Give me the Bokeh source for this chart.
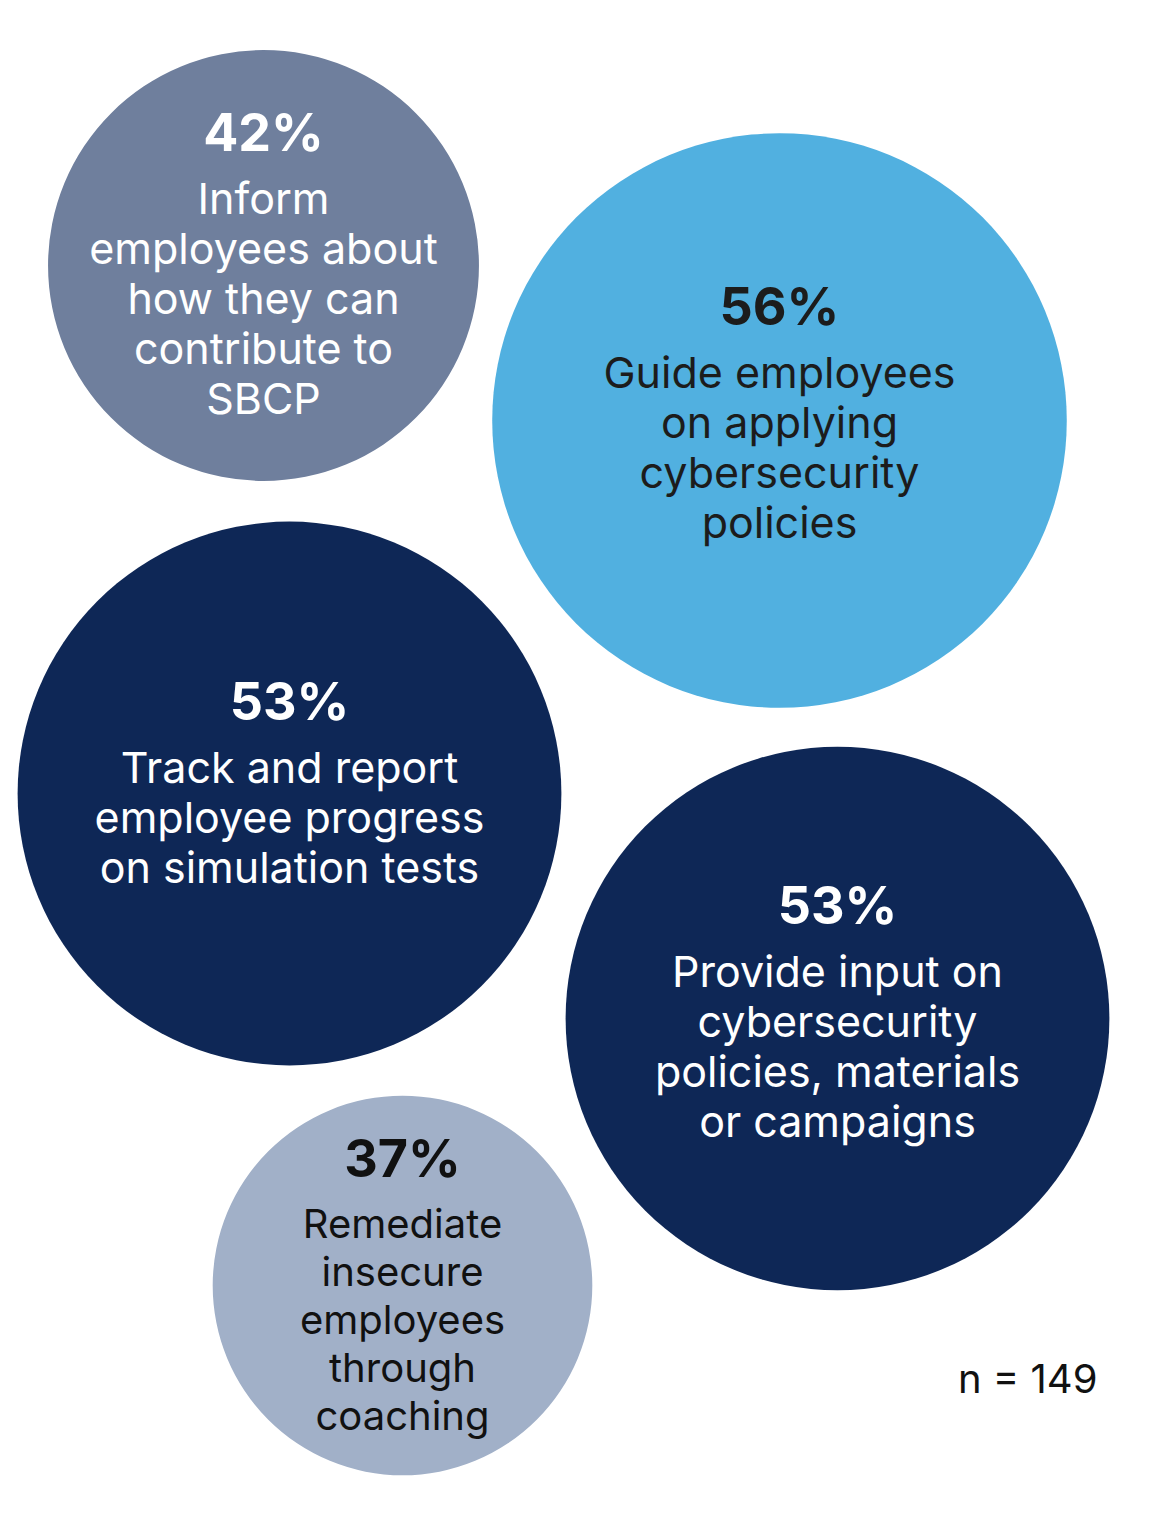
from bokeh.plotting import figure
from bokeh.models import Range1d, ColumnDataSource
from bokeh.core.properties import value
from bokeh.embed import file_html
from bokeh.resources import INLINE

# ---- data ----
values = [42, 56, 53, 53, 37]
labels = [
    ["Inform", "employees about", "how they can", "contribute to", "SBCP"],
    ["Guide employees", "on applying", "cybersecurity", "policies"],
    ["Track and report", "employee progress", "on simulation tests"],
    ["Provide input on", "cybersecurity", "policies, materials", "or campaigns"],
    ["Remediate", "insecure", "employees", "through", "coaching"],
]
sample_note = "n = 149"

# ---- layout / style ----
cx = [263, 779, 289, 837, 402]
cy = [265, 420, 793, 1018, 1285]
pct_dy = [-133, -114, -92, -113, -127]
fills = ["#6F7F9D", "#51B0E0", "#0E2756", "#0E2756", "#A1B0C8"]
text_colors = ["#FFFFFF", "#1C1C1C", "#FFFFFF", "#FFFFFF", "#111111"]
label_sizes = [43, 43, 43, 43, 40]
line_gaps = [50, 50, 50, 50, 48]
px_per_point = 5.13
FONT = "Inter"

W, H = 1150, 1516
p = figure(width=W, height=H, x_range=Range1d(0, W), y_range=Range1d(H, 0),
           output_backend="svg", toolbar_location=None, min_border=0,
           background_fill_color="white", border_fill_color="white")
p.axis.visible = False
p.grid.visible = False
p.outline_line_color = None

src = ColumnDataSource(dict(x=cx, y=cy, r=[v * px_per_point for v in values], fill=fills))
p.circle(x="x", y="y", radius="r", fill_color="fill", line_color=None, source=src)

for i, v in enumerate(values):
    lines = labels[i]
    n = len(lines)
    gap = line_gaps[i]
    top = cy[i] + pct_dy[i]
    p.text(x=[cx[i]], y=[top], text=[f"{v}%"], text_align="center", text_baseline="middle",
           text_font=value(FONT), text_font_style="bold", text_font_size="52px",
           text_color=text_colors[i])
    ys = [top + 65 + k * gap for k in range(n)]
    p.text(x=[cx[i]] * n, y=ys, text=lines, text_align="center", text_baseline="middle",
           text_font=value(FONT), text_font_size=f"{label_sizes[i]}px",
           text_color=text_colors[i])

p.text(x=[1097], y=[1378], text=[sample_note], text_align="right", text_baseline="middle",
       text_font=value(FONT), text_font_size="40px", text_color="#111111")

open("out.html", "w").write(file_html(p, INLINE))
